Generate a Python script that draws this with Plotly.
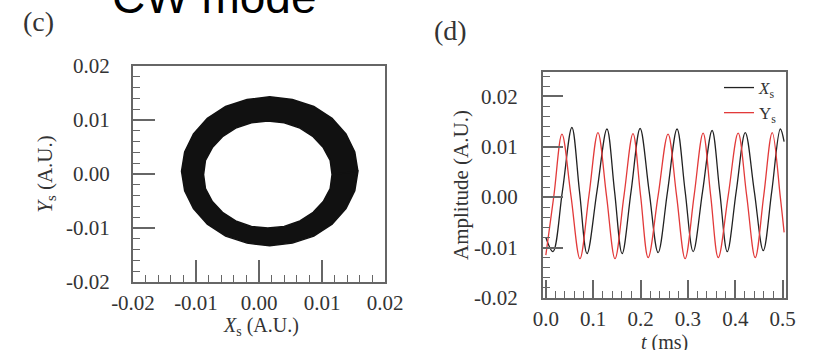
import plotly.graph_objects as go

# ---------------- data ----------------
# (c) ring: outer and inner boundaries of the Xs/Ys scatter cloud
ring_outer_x = [0.0157, 0.0152, 0.0138, 0.0116, 0.0087, 0.0053, 0.0017, -0.0019, -0.0053, -0.0082,
                -0.0104, -0.0118, -0.0123, -0.0118, -0.0104, -0.0082, -0.0053, -0.0019, 0.0017, 0.0053,
                0.0087, 0.0116, 0.0138, 0.0152, 0.0157]
ring_outer_y = [0.0005, 0.0041, 0.0074, 0.0103, 0.0125, 0.0138, 0.0143, 0.0138, 0.0125, 0.0103,
                0.0074, 0.0041, 0.0005, -0.0031, -0.0064, -0.0093, -0.0115, -0.0128, -0.0133, -0.0128,
                -0.0115, -0.0093, -0.0064, -0.0031, 0.0005]
ring_inner_x = [0.0116, 0.0113, 0.0102, 0.0086, 0.0065, 0.0040, 0.0014, -0.0012, -0.0037, -0.0058,
                -0.0074, -0.0085, -0.0088, -0.0085, -0.0074, -0.0058, -0.0037, -0.0012, 0.0014, 0.0040,
                0.0065, 0.0086, 0.0102, 0.0113, 0.0116]
ring_inner_y = [-0.0001, 0.0025, 0.0049, 0.0069, 0.0085, 0.0095, 0.0098, 0.0095, 0.0085, 0.0069,
                0.0049, 0.0025, -0.0001, -0.0027, -0.0051, -0.0071, -0.0087, -0.0097, -0.0100, -0.0097,
                -0.0087, -0.0071, -0.0051, -0.0027, -0.0001]

# (d) time traces (ms, A.U.)
t_xs = [0.000, 0.015, 0.035, 0.055, 0.071, 0.087, 0.108, 0.129, 0.145, 0.161, 0.180, 0.199,
        0.218, 0.237, 0.257, 0.277, 0.294, 0.311, 0.331, 0.351, 0.367, 0.383, 0.402, 0.421,
        0.440, 0.459, 0.477, 0.495, 0.503]
amp_xs = [-0.0080, -0.0108, 0.0012, 0.0138, 0.0012, -0.0112, 0.0012, 0.0135, 0.0012, -0.0112, 0.0012, 0.0136,
          0.0012, -0.0110, 0.0012, 0.0135, 0.0012, -0.0108, 0.0012, 0.0132, 0.0012, -0.0108, 0.0012, 0.0128,
          0.0012, -0.0106, 0.0012, 0.0135, 0.0110]
t_ys = [0.000, 0.017, 0.034, 0.053, 0.072, 0.091, 0.110, 0.128, 0.146, 0.165, 0.184, 0.200,
        0.216, 0.237, 0.258, 0.276, 0.294, 0.313, 0.332, 0.348, 0.364, 0.385, 0.406, 0.424,
        0.442, 0.460, 0.478, 0.495, 0.503]
amp_ys = [-0.0115, 0.0003, 0.0125, 0.0003, -0.0122, 0.0003, 0.0128, 0.0003, -0.0122, 0.0003, 0.0126, 0.0003,
          -0.0120, 0.0003, 0.0125, 0.0003, -0.0122, 0.0003, 0.0127, 0.0003, -0.0120, 0.0003, 0.0127, 0.0003,
          -0.0120, 0.0003, 0.0128, 0.0000, -0.0070]

c_ticks = [-0.02, -0.01, 0.00, 0.01, 0.02]
c_ticktext = ["-0.02", "-0.01", "0.00", "0.01", "0.02"]
d_xticks = [0.0, 0.1, 0.2, 0.3, 0.4, 0.5]
d_xticktext = ["0.0", "0.1", "0.2", "0.3", "0.4", "0.5"]
d_yticks = [-0.02, -0.01, 0.00, 0.01, 0.02]
d_yticktext = ["-0.02", "-0.01", "0.00", "0.01", "0.02"]

# ---------------- figure ----------------
SERIF = "Liberation Serif, Times New Roman, serif"
AX = "#666666"
TXT = "#333333"

fig = go.Figure()

ring_x = ring_outer_x + ring_inner_x[::-1]
ring_y = ring_outer_y + ring_inner_y[::-1]
fig.add_trace(go.Scatter(x=ring_x, y=ring_y, mode="lines", fill="toself",
                         fillcolor="#111111", line=dict(color="#111111", width=1.5),
                         xaxis="x", yaxis="y", showlegend=False, hoverinfo="skip"))

fig.add_trace(go.Scatter(x=t_xs, y=amp_xs, mode="lines", name="<i>X</i><sub>s</sub>",
                         line=dict(color="#222222", width=1.3, shape="spline"),
                         xaxis="x2", yaxis="y2"))
fig.add_trace(go.Scatter(x=t_ys, y=amp_ys, mode="lines", name="Y<sub>s</sub>",
                         line=dict(color="#e23a3a", width=1.3, shape="spline"),
                         xaxis="x2", yaxis="y2"))

W, H = 818, 350


def axis_common(**kw):
    d = dict(showline=True, linecolor=AX, linewidth=2, mirror=True, ticks="inside",
             tickcolor=AX, tickwidth=1.5, showgrid=False, zeroline=False, automargin=False,
             tickfont=dict(family=SERIF, size=21, color=TXT),
             title_font=dict(family=SERIF, size=21, color=TXT))
    d.update(kw)
    return d


fig.update_layout(
    width=W, height=H, margin=dict(l=0, r=0, t=0, b=0, autoexpand=False),
    paper_bgcolor="white", plot_bgcolor="white",
    xaxis=axis_common(domain=[133 / W, 385 / W], range=[-0.02, 0.02], anchor="y",
                      tickvals=c_ticks, ticktext=c_ticktext, ticklen=22, ticklabelstandoff=1,
                      minor=dict(dtick=0.002, ticklen=7, ticks="inside", tickcolor=AX, tickwidth=1.2)),
    yaxis=axis_common(domain=[(H - 282) / H, (H - 66) / H], range=[-0.02, 0.02], anchor="x",
                      tickvals=c_ticks, ticktext=c_ticktext, ticklen=22, ticklabelstandoff=17,
                      minor=dict(dtick=0.002, ticklen=7, ticks="inside", tickcolor=AX, tickwidth=1.2),
                      title=dict(text="<i>Y</i><sub>s</sub> (A.U.)", standoff=8)),
    xaxis2=axis_common(domain=[543 / W, 786 / W], range=[-0.006, 0.507], anchor="y2",
                       tickvals=d_xticks, ticktext=d_xticktext, ticklen=18, ticklabelstandoff=1,
                       minor=dict(dtick=0.02, ticklen=7, ticks="inside", tickcolor=AX, tickwidth=1.2)),
    yaxis2=axis_common(domain=[(H - 298) / H, (H - 72) / H], range=[-0.02, 0.0248], anchor="x2",
                       tickvals=d_yticks, ticktext=d_yticktext, ticklen=20, ticklabelstandoff=19,
                       minor=dict(dtick=0.002, ticklen=7, ticks="inside", tickcolor=AX, tickwidth=1.2),
                       title=dict(text="Amplitude (A.U.)", standoff=0)),
    legend=dict(x=782 / W, y=(H - 70) / H, xanchor="right", yanchor="top",
                bgcolor="rgba(0,0,0,0)", font=dict(family=SERIF, size=17, color=TXT),
                itemwidth=30, tracegroupgap=0),
    annotations=[
        dict(text="CW mode", x=110 / W, y=(H - 25) / H, xref="paper", yref="paper",
             xanchor="left", yanchor="bottom", showarrow=False,
             font=dict(family="Liberation Sans, Arial, sans-serif", size=46, color="#000000")),
        dict(text="(c)", x=38 / W, y=(H - 22) / H, xref="paper", yref="paper",
             xanchor="center", yanchor="middle", showarrow=False,
             font=dict(family=SERIF, size=28, color=TXT)),
        dict(text="(d)", x=451 / W, y=(H - 30) / H, xref="paper", yref="paper",
             xanchor="center", yanchor="middle", showarrow=False,
             font=dict(family=SERIF, size=28, color=TXT)),
        dict(text="<i>X</i><sub>s</sub> (A.U.)", x=261 / W, y=(H - 326) / H, xref="paper", yref="paper",
             xanchor="center", yanchor="middle", showarrow=False,
             font=dict(family=SERIF, size=20, color=TXT)),
        dict(text="<i>t</i> (ms)", x=664 / W, y=(H - 342) / H, xref="paper", yref="paper",
             xanchor="center", yanchor="middle", showarrow=False,
             font=dict(family=SERIF, size=20, color=TXT)),
    ],
)

fig.write_html("out.html", config={"displayModeBar": False},
               post_script="document.body.style.margin='0px';")
